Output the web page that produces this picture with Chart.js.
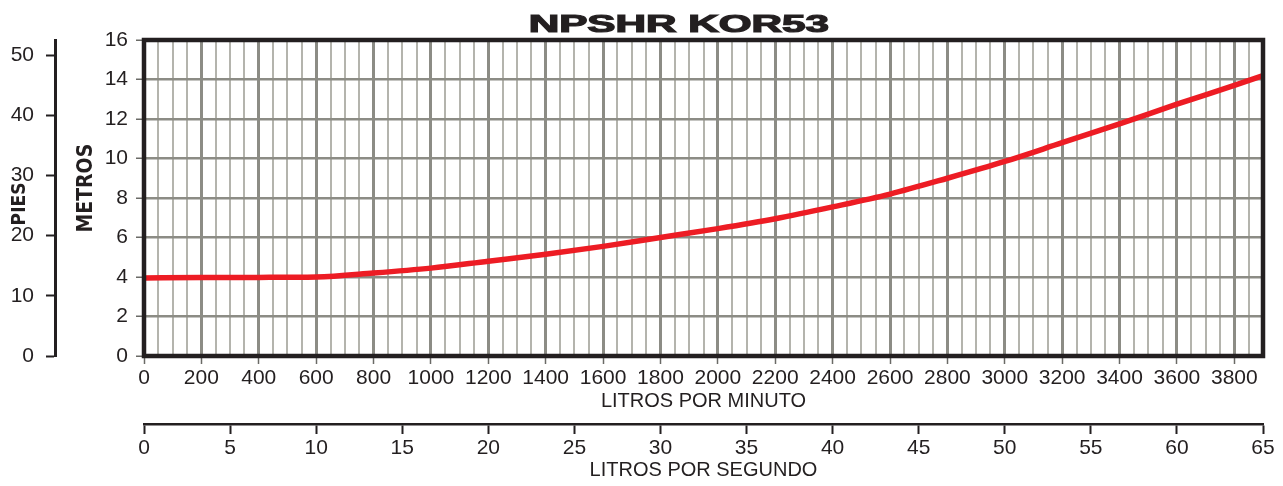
<!DOCTYPE html>
<html>
<head>
<meta charset="utf-8">
<script src="https://cdn.jsdelivr.net/npm/chart.js@4.4.1/dist/chart.umd.min.js"></script>
<style>
  html, body { margin: 0; padding: 0; background: #fff; }
  #wrap { width: 1283px; height: 486px; }
</style>
</head>
<body>
<div id="wrap"><canvas id="chart" width="1283" height="486"></canvas></div>
<script>
// NPSHR curve
const titleText = "NPSHR KOR53";
const lpm = [0, 200, 400, 600, 800, 1000, 1200, 1400, 1600, 1800, 2000, 2200, 2400, 2600, 2800, 3000, 3200, 3400, 3600, 3800, 3900];
const npshrM = [3.95, 3.97, 3.98, 4.0, 4.2, 4.45, 4.8, 5.15, 5.55, 6.0, 6.45, 6.95, 7.55, 8.2, 9.0, 9.85, 10.8, 11.75, 12.75, 13.7, 14.2];

const xTitle = "LITROS POR MINUTO";
const x2Title = "LITROS POR SEGUNDO";
// padded with spaces so the rotated titles sit where the sheet has them
const yTitle = "   METROS";
const y2Title = "PIES  ";

const ink = "#231f20";
const red = "#ed1c24";
const gridMajor = "#8c8c85";
const gridMinor = "#b4b4ad";
const M_TO_FT = 3.28084;

const tickFont = { family: "'Liberation Sans', Arial, sans-serif", size: 21 };
const axisFont = { family: "'Liberation Sans', Arial, sans-serif", size: 20 };
const narrowBold = (size) => ({
  family: "'Liberation Sans Narrow', 'Arial Narrow', 'DejaVu Sans Condensed', 'Liberation Sans', sans-serif",
  size,
  weight: "bold",
});

// frame round the plot area + stretched heading
const framePlugin = {
  id: "frame",
  afterDatasetsDraw(chart) {
    const { ctx, chartArea: a } = chart;
    ctx.save();
    ctx.strokeStyle = ink;
    ctx.lineWidth = 4.5;
    ctx.strokeRect(a.left, a.top, a.right - a.left, a.bottom - a.top);
    ctx.restore();
  },
  afterDraw(chart) {
    const { ctx, chartArea: a } = chart;
    ctx.save();
    ctx.font = "bold 24px 'Liberation Sans', Arial, sans-serif";
    ctx.fillStyle = ink;
    ctx.strokeStyle = ink;
    ctx.lineWidth = 1.2;
    ctx.textAlign = "center";
    ctx.textBaseline = "alphabetic";
    ctx.translate(a.left + (a.right - a.left) * 0.478, 32);
    ctx.scale(1.76, 1);
    ctx.fillText(titleText, 0, 0);
    ctx.strokeText(titleText, 0, 0);
    ctx.restore();
  },
};

const ctx = document.getElementById("chart").getContext("2d");

const chart = new Chart(ctx, {
  type: "line",
  data: {
    datasets: [
      {
        label: "NPSHR",
        data: lpm.map((x, i) => ({ x, y: npshrM[i] })),
        borderColor: red,
        borderWidth: 5.5,
        pointRadius: 0,
        cubicInterpolationMode: "monotone",
        fill: false,
      },
    ],
  },
  options: {
    responsive: false,
    animation: false,
    devicePixelRatio: 1,
    layout: { padding: { top: 40, right: 20, left: 0, bottom: 0 } },
    plugins: { legend: { display: false }, tooltip: { enabled: false } },
    scales: {
      x: {
        type: "linear",
        position: "bottom",
        weight: 0,
        min: 0,
        max: 3900,
        afterFit: (s) => { s.height = 68; },
        border: { display: false },
        grid: {
          color: (c) => (c.tick && c.tick.value % 200 === 0 ? gridMajor : gridMinor),
          lineWidth: (c) => (c.tick && c.tick.value % 200 === 0 ? 3 : 2),
          tickColor: (c) => (c.tick && c.tick.value % 200 === 0 ? "#6a6a66" : "rgba(0,0,0,0)"),
          tickLength: 8,
          tickWidth: 1.5,
        },
        ticks: {
          stepSize: 50,
          autoSkip: false,
          maxRotation: 0,
          padding: 2,
          color: ink,
          font: tickFont,
          callback: (v) => (v % 200 === 0 ? String(v) : ""),
        },
        title: { display: true, text: xTitle, color: ink, font: axisFont, padding: { top: 0, bottom: 11 } },
      },
      x2: {
        type: "linear",
        position: "bottom",
        weight: 1,
        min: 0,
        max: 65,
        afterFit: (s) => { s.height = 62; },
        border: { display: true, color: ink, width: 2.5 },
        grid: { drawOnChartArea: false, drawTicks: true, tickLength: 10, tickColor: ink, tickWidth: 2 },
        ticks: { stepSize: 5, autoSkip: false, maxRotation: 0, padding: 2, color: ink, font: tickFont },
        title: { display: true, text: x2Title, color: ink, font: axisFont, padding: { top: 0, bottom: 4 } },
      },
      y: {
        type: "linear",
        position: "left",
        weight: 0,
        min: 0,
        max: 16,
        afterFit: (s) => { s.width = 89; },
        border: { display: false },
        grid: { color: gridMajor, lineWidth: 2.5, tickColor: "#6a6a66", tickLength: 8, tickWidth: 1.5 },
        ticks: { stepSize: 2, padding: 8, color: ink, font: tickFont },
        title: { display: true, text: yTitle, color: ink, font: narrowBold(21), padding: { top: 19, bottom: 0 } },
      },
      y2: {
        type: "linear",
        position: "left",
        weight: 1,
        min: 0,
        max: 16 * M_TO_FT,
        afterFit: (s) => { s.width = 55; },
        border: { display: true, color: ink, width: 3 },
        grid: { drawOnChartArea: false, drawTicks: true, tickLength: 9, tickColor: ink, tickWidth: 2 },
        ticks: {
          stepSize: 10,
          includeBounds: false,
          padding: 12,
          color: ink,
          font: tickFont,
          callback: (v) => (v % 10 === 0 ? String(v) : ""),
        },
        title: { display: true, text: y2Title, color: ink, font: narrowBold(19), padding: { top: 9, bottom: 0 } },
      },
    },
  },
  plugins: [framePlugin],
});
</script>
</body>
</html>
